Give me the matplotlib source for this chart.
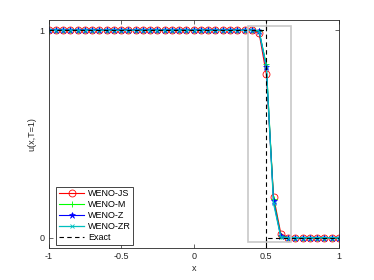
import numpy as np
import matplotlib
matplotlib.use("Agg")
import matplotlib.pyplot as plt
from matplotlib.patches import Rectangle

# grid (every 0.05 from -1 to 1)
x = np.round(np.arange(-1.0, 1.0001, 0.05), 2)

# values: 29 points at 1, four in the jump, 8 at 0
wenoJS = [1.0] * 29 + [0.988, 0.790, 0.198, 0.020] + [0.0] * 8
wenoM  = [1.0] * 29 + [0.995, 0.835, 0.185, 0.008] + [0.0] * 8
wenoZ  = [1.0] * 29 + [0.996, 0.822, 0.175, 0.006] + [0.0] * 8
wenoZR = [1.0] * 29 + [0.998, 0.828, 0.165, 0.004] + [0.0] * 8

xExact = [-1.0, 0.5, 0.5, 0.5, 0.5, 1.0]
uExact = [1.0, 1.0, 1.05, -0.05, 0.0, 0.0]

xticks = [-1, -0.5, 0, 0.5, 1]
xtick_labels = ["-1", "-0.5", "0", "0.5", "1"]
yticks = [0, 1]

plt.rcParams['font.family'] = ['Liberation Sans', 'DejaVu Sans']
plt.rcParams['font.size'] = 6.5

fig = plt.figure(figsize=(3.74, 2.80), dpi=100)
ax = fig.add_axes([0.13, 0.114, 0.776, 0.815])

ax.plot(x, wenoJS, color='r', lw=0.8, marker='o', ms=5, mfc='none', mew=0.6, label='WENO-JS')
ax.plot(x, wenoM, color='#00ff00', lw=0.8, marker='+', ms=5, mew=0.6, label='WENO-M')
ax.plot(x, wenoZ, color='b', lw=0.8, marker='*', ms=4.5, mew=0.4, label='WENO-Z')
ax.plot(x, wenoZR, color='c', lw=0.9, marker='x', ms=3.5, mew=0.6, label='WENO-ZR')
ax.plot(xExact, uExact, color='k', lw=0.8, ls=(0, (4, 3)), label='Exact')

ax.add_patch(Rectangle((0.376, -0.019), 0.291, 1.04, fill=False,
                       edgecolor='#c8c8c8', lw=1.2, zorder=5))

ax.set_xlim(-1, 1)
ax.set_ylim(-0.05, 1.05)
ax.set_xticks(xticks)
ax.set_xticklabels(xtick_labels)
ax.set_yticks(yticks)
ax.tick_params(direction='in', top=True, right=True, length=3, width=0.5,
               colors='#262626', pad=3)
for s in ax.spines.values():
    s.set_linewidth(0.6)
    s.set_color('#262626')

ax.set_xlabel('x', color='#262626', labelpad=2)
ax.set_ylabel('u(x,T=1)', color='#262626', labelpad=2)

leg = ax.legend(loc='lower left', bbox_to_anchor=(0.02, 0.005), fancybox=False,
                framealpha=1, edgecolor='#262626', handlelength=2.8,
                borderpad=0.3, labelspacing=0.22, handletextpad=0.4,
                borderaxespad=0.2)
leg.get_frame().set_linewidth(0.6)

fig.savefig('out.png', dpi=100)
